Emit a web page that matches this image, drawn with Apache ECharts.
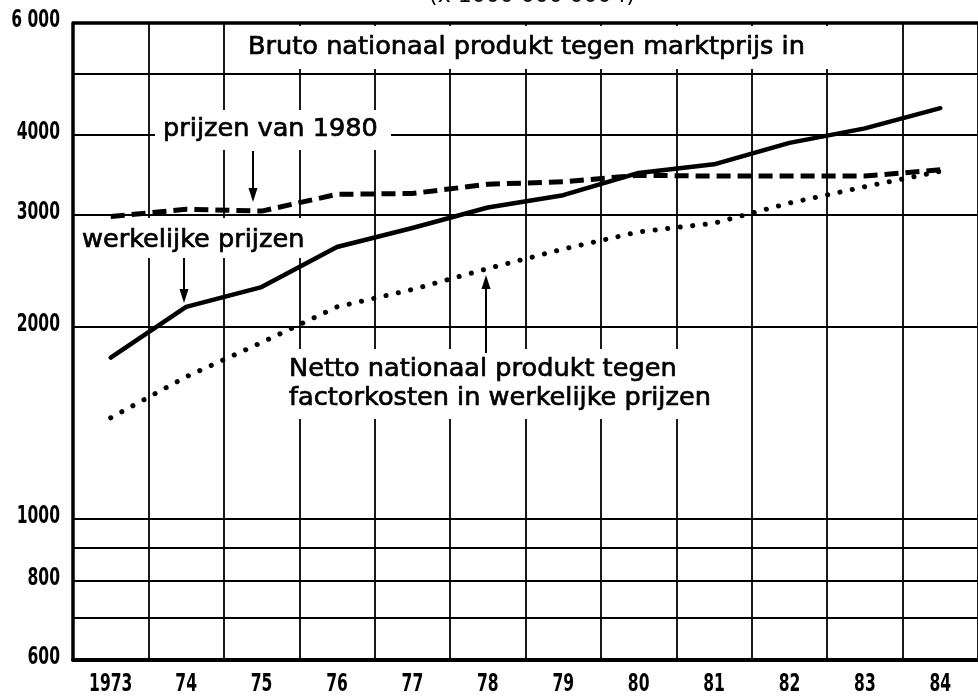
<!DOCTYPE html>
<html>
<head>
<meta charset="utf-8">
<script src="https://cdn.jsdelivr.net/npm/echarts@6/dist/echarts.min.js"></script>
<style>
html,body{margin:0;padding:0;background:#fff;}
#chart{width:978px;height:699px;}
</style>
</head>
<body>
<div id="chart"></div>
<script>
// ---- data ----
var years = ['1973','74','75','76','77','78','79','80','81','82','83','84'];
var brutoWerkelijk = [1790, 2150, 2310, 2670, 2860, 3080, 3220, 3490, 3600, 3890, 4100, 4410];
var brutoPrijzen1980 = [2980, 3060, 3040, 3230, 3240, 3350, 3380, 3460, 3450, 3450, 3450, 3530];
var nettoWerkelijk = [1440, 1670, 1890, 2150, 2290, 2470, 2650, 2820, 2910, 3130, 3320, 3510];
var yGridValues = [700, 800, 900, 1000, 2000, 3000, 4000, 5000];
var yTickValues = [600, 800, 1000, 2000, 3000, 4000, 6000];
var yTickLabels = ['600', '800', '1000', '2000', '3000', '4000', '6 000'];

var tickFontCss = 'bold 24px "DejaVu Sans Condensed", "DejaVu Sans", sans-serif';
var annFont = '"DejaVu Sans", sans-serif';

var chart = echarts.init(document.getElementById('chart'), null, {renderer:'canvas'});

var gridMarks = yGridValues.map(function(v){ return {yAxis:v}; });
gridMarks.push({yAxis:6000, lineStyle:{width:3.5}});

function arrow(x, y1, y2){ // from y1 to tip y2
  var dir = y2 > y1 ? 1 : -1;
  return [
    {type:'line', z:60, shape:{x1:x, y1:y1, x2:x, y2:y2 - dir*8}, style:{stroke:'#000', lineWidth:2}},
    {type:'polygon', z:60, shape:{points:[[x-4.5, y2 - dir*14],[x+4.5, y2 - dir*14],[x, y2]]}, style:{fill:'#000'}}
  ];
}
function box(x, y, w, h){
  return {type:'rect', z:50, shape:{x:x, y:y, width:w, height:h}, style:{fill:'#fff'}};
}
function txt(s, x, y){
  return {type:'text', z:55, x:x, y:y, style:{text:s, font:'25.6px ' + annFont, fill:'#000', stroke:'#000', lineWidth:0.7, textVerticalAlign:'middle', textAlign:'left'}};
}

var baseGraphics = [
  box(229, 26, 601, 43),
  box(155, 110, 236, 40),
  box(78, 218, 245, 40),
  box(283, 349, 462, 70),
  txt('Bruto nationaal produkt tegen marktprijs in', 248, 47),
  txt('prijzen van 1980', 163, 129),
  txt('werkelijke prijzen', 82, 240),
  txt('Netto nationaal produkt tegen', 289, 369),
  txt('factorkosten in werkelijke prijzen', 289, 398),
  {type:'text', z:55, x:532, y:7, style:{text:'(x 1000 000 000 f)', font:'22px ' + annFont, fill:'#000', textAlign:'center', textVerticalAlign:'bottom'}}
].concat(arrow(253, 151, 202), arrow(184, 258, 303), arrow(486, 353, 275));

chart.setOption({
  backgroundColor:'#fff',
  animation:false,
  grid:{left:73, top:23, width:910, height:637},
  xAxis:{
    type:'category', data:years, boundaryGap:true,
    axisLine:{show:true, lineStyle:{color:'#000', width:4}},
    axisTick:{show:false},
    axisLabel:{show:false},
    splitLine:{show:true, interval:0, lineStyle:{color:'#000', width:1.8}}
  },
  yAxis:{
    type:'log', logBase:10, min:600, max:6000,
    axisLine:{show:true, lineStyle:{color:'#000', width:3.5}},
    axisTick:{show:false}, axisLabel:{show:false}, splitLine:{show:false}
  },
  series:[
    {type:'line', name:'grid', data:[], z:1, silent:true, symbol:'none',
     markLine:{silent:true, symbol:['none','none'], animation:false,
       lineStyle:{color:'#000', width:1.8, type:'solid'},
       label:{show:false},
       emphasis:{disabled:true},
       data:gridMarks}},
    {type:'line', name:'werkelijke prijzen', data:brutoWerkelijk, z:100, symbol:'none', smooth:false,
     lineStyle:{color:'#000', width:4.5, cap:'round', join:'round'}},
    {type:'line', name:'prijzen van 1980', data:brutoPrijzen1980, z:100, symbol:'none',
     lineStyle:{color:'#000', width:5, type:[14,7]}},
    {type:'line', name:'Netto', data:nettoWerkelijk, z:100, symbol:'none',
     lineStyle:{color:'#000', width:5, type:[0.1,12.5], cap:'round'}}
  ]
});

// tick labels placed through the axes' own scales (condensed to match the narrow print type)
var labelGraphics = [];
yTickValues.forEach(function(v, i){
  var py = chart.convertToPixel({yAxisIndex:0}, v);
  labelGraphics.push({type:'text', z:55, x:60, y:py - 2, scaleX:0.72,
    style:{text:yTickLabels[i], font:tickFontCss, fill:'#000', textAlign:'right', textVerticalAlign:'middle'}});
});
years.forEach(function(c){
  var px = chart.convertToPixel({xAxisIndex:0}, c);
  labelGraphics.push({type:'text', z:55, x:px, y:685, scaleX:0.72,
    style:{text:c, font:tickFontCss, fill:'#000', textAlign:'center', textVerticalAlign:'middle'}});
});
chart.setOption({graphic:{elements:baseGraphics.concat(labelGraphics)}});
</script>
</body>
</html>
